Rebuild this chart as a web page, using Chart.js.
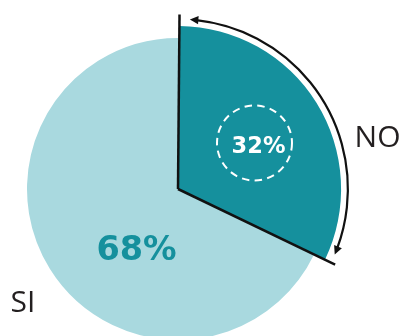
<!DOCTYPE html>
<html><head><meta charset="utf-8">
<script src="https://cdn.jsdelivr.net/npm/chart.js@4"></script>
<style>
html,body{margin:0;padding:0;overflow:hidden;background:#fff;width:403px;height:336px}
#wrap{position:absolute;left:0;top:0;width:403px;height:340px}
canvas{display:block}
</style></head>
<body><div id="wrap"><canvas id="c" width="403" height="340"></canvas></div>
<script>
const categories = ['NO', 'SI'];
const values = [32, 68];
const valueLabels = ['32%', '68%'];
const sliceColors = ['#15909d', '#a9d9df'];

const DEG = Math.PI / 180;

const growPlugin = {
  id: 'grow',
  afterDatasetUpdate(chart, args) {
    if (args.index !== 0) return;
    const el = chart.getDatasetMeta(0).data[0];
    el.outerRadius = el.outerRadius * 1.08;
  }
};

function arrowHead(ctx, x, y, dx, dy, len, half) {
  const px = -dy, py = dx;
  ctx.beginPath();
  ctx.moveTo(x, y);
  ctx.lineTo(x - dx * len + px * half, y - dy * len + py * half);
  ctx.lineTo(x - dx * len - px * half, y - dy * len - py * half);
  ctx.closePath();
  ctx.fill();
}

const decoPlugin = {
  id: 'deco',
  afterDatasetsDraw(chart) {
    const ctx = chart.ctx;
    const meta = chart.getDatasetMeta(0);
    const no = meta.data[0];
    const cx = no.x, cy = no.y;
    const R = meta.data[1].outerRadius;
    const a0 = no.startAngle, a1 = no.endAngle;
    ctx.save();
    // radial black edges
    ctx.strokeStyle = '#111';
    ctx.lineWidth = 2.5;
    ctx.lineCap = 'butt';
    const rl = R * 1.155;
    [a0, a1].forEach(a => {
      ctx.beginPath();
      ctx.moveTo(cx, cy);
      ctx.lineTo(cx + Math.cos(a) * rl, cy + Math.sin(a) * rl);
      ctx.stroke();
    });
    // arrow arc
    const ra = R * 1.125;
    const s = a0 + 3.5 * DEG, e = a1 - 3 * DEG;
    ctx.lineWidth = 2.2;
    ctx.beginPath();
    ctx.arc(cx, cy, ra, s + 2.2 * DEG, e - 2.2 * DEG);
    ctx.stroke();
    ctx.fillStyle = '#111';
    arrowHead(ctx, cx + Math.cos(s) * ra, cy + Math.sin(s) * ra, Math.sin(s), -Math.cos(s), 8.5, 4.2);
    arrowHead(ctx, cx + Math.cos(e) * ra, cy + Math.sin(e) * ra, -Math.sin(e), Math.cos(e), 8.5, 4.2);
    // dashed circle
    ctx.strokeStyle = '#fff';
    ctx.lineWidth = 2;
    ctx.setLineDash([7.5, 5.3]);
    ctx.beginPath();
    ctx.arc(cx + 76.5, cy - 46, 37.5, 0, Math.PI * 2);
    ctx.stroke();
    ctx.setLineDash([]);
    // value labels
    ctx.textAlign = 'center';
    ctx.textBaseline = 'alphabetic';
    ctx.fillStyle = '#fff';
    ctx.font = 'bold 22.5px "DejaVu Sans"';
    ctx.fillText(valueLabels[0], cx + 80.5, cy - 35.7);
    ctx.fillStyle = sliceColors[0];
    ctx.font = 'bold 33.5px "DejaVu Sans"';
    ctx.fillText(valueLabels[1], cx - 41.5, cy + 71);
    // category labels
    ctx.fillStyle = '#231f20';
    ctx.font = '30px "Open Sans"';
    ctx.fillText(categories[0], cx + 199.5, cy - 42.3);
    ctx.textAlign = 'left';
    ctx.fillText(categories[1], cx - 167.5, cy + 122.7);
    ctx.restore();
  }
};

new Chart(document.getElementById('c'), {
  type: 'pie',
  data: {
    labels: categories,
    datasets: [{
      data: values,
      backgroundColor: sliceColors,
      borderWidth: 0,
      hoverOffset: 0
    }]
  },
  options: {
    responsive: false,
    animation: false,
    rotation: 0.5,
    layout: { padding: { left: 27, right: 74, top: 38, bottom: 0 } },
    plugins: { legend: { display: false }, tooltip: { enabled: false } },
    events: []
  },
  plugins: [growPlugin, decoPlugin]
});
</script>
</body></html>
